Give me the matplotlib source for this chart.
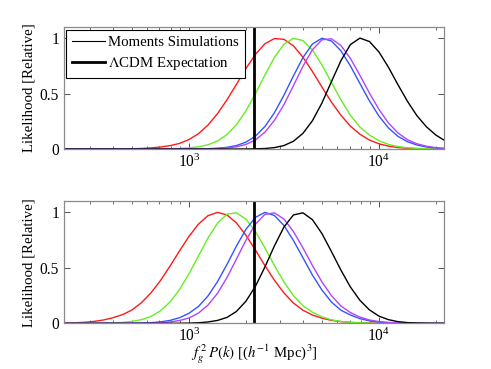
import matplotlib

matplotlib.use("Agg")
import matplotlib.pyplot as plt
from matplotlib.lines import Line2D
from matplotlib.ticker import LogLocator, NullFormatter, FixedLocator

plt.rcParams["font.family"] = ["Liberation Serif", "DejaVu Serif"]
plt.rcParams["mathtext.fontset"] = "stix"

# grid of f_g^2 P(k) values (0.05 dex spacing) shared by all curves
P = [224, 251, 282, 316, 355, 398, 447, 501, 562, 631, 708, 794, 891,
     1000, 1122, 1259, 1413, 1585, 1778, 1995, 2239, 2512, 2818, 3162,
     3548, 3981, 4467, 5012, 5623, 6310, 7079, 7943, 8913, 10000, 11220,
     12589, 14125, 15849, 17783, 19953, 22387]

# top panel likelihoods
top_red = [0, 0, 0, 0, 0.0001, 0.0004, 0.001, 0.002, 0.005, 0.01, 0.018,
           0.03, 0.05, 0.085, 0.138, 0.215, 0.318, 0.443, 0.583, 0.726,
           0.854, 0.949, 0.996, 0.989, 0.930, 0.828, 0.699, 0.559, 0.423,
           0.304, 0.206, 0.133, 0.081, 0.047, 0.026, 0.013, 0.0065, 0.003,
           0.0013, 0.0006, 0.0002]
top_green = [0, 0, 0, 0, 0, 0, 0, 0, 0, 0, 0.001, 0.002, 0.005, 0.01, 0.02,
             0.038, 0.072, 0.13, 0.219, 0.344, 0.499, 0.668, 0.826, 0.945,
             0.998, 0.978, 0.892, 0.758, 0.600, 0.443, 0.304, 0.197, 0.125,
             0.075, 0.042, 0.022, 0.011, 0.0055, 0.0025, 0.001, 0.0004]
top_blue = [0, 0, 0, 0, 0, 0, 0, 0, 0, 0, 0, 0, 0, 0.0004, 0.0012, 0.003,
            0.007, 0.015, 0.031, 0.062, 0.116, 0.203, 0.327, 0.485, 0.659,
            0.824, 0.947, 0.999, 0.974, 0.885, 0.749, 0.590, 0.434, 0.297,
            0.19, 0.114, 0.066, 0.036, 0.018, 0.009, 0.004]
top_purple = [0, 0, 0, 0, 0, 0, 0, 0, 0, 0, 0, 0, 0, 0, 0.0005, 0.0015,
              0.004, 0.009, 0.02, 0.041, 0.082, 0.152, 0.258, 0.400, 0.571,
              0.746, 0.895, 0.985, 0.994, 0.933, 0.816, 0.664, 0.504, 0.357,
              0.235, 0.145, 0.084, 0.047, 0.025, 0.012, 0.0055]
top_black = [0, 0, 0, 0, 0, 0, 0, 0, 0, 0, 0, 0, 0, 0, 0, 0, 0, 0, 0,
             0.0004, 0.0015, 0.0045, 0.0125, 0.031, 0.070, 0.141, 0.255,
             0.415, 0.607, 0.797, 0.942, 1.0, 0.969, 0.875, 0.737, 0.58,
             0.43, 0.30, 0.20, 0.125, 0.072]

# bottom panel likelihoods
bot_red = [0.0025, 0.005, 0.009, 0.017, 0.03, 0.05, 0.078, 0.12, 0.185,
           0.274, 0.385, 0.514, 0.651, 0.783, 0.894, 0.970, 1.0, 0.977,
           0.905, 0.794, 0.660, 0.520, 0.388, 0.274, 0.183, 0.118, 0.075,
           0.046, 0.027, 0.015, 0.008, 0.004, 0.002, 0.001, 0, 0, 0, 0, 0,
           0, 0]
bot_green = [0, 0, 0, 0.0007, 0.0018, 0.004, 0.008, 0.017, 0.033, 0.062,
             0.112, 0.191, 0.302, 0.445, 0.607, 0.768, 0.902, 0.984, 0.996,
             0.940, 0.827, 0.680, 0.521, 0.373, 0.25, 0.158, 0.10, 0.058,
             0.032, 0.017, 0.009, 0.0045, 0.002, 0.001, 0, 0, 0, 0, 0, 0, 0]
bot_blue = [0, 0, 0, 0, 0, 0, 0, 0.001, 0.0025, 0.006, 0.013, 0.026, 0.05,
            0.09, 0.152, 0.246, 0.375, 0.530, 0.696, 0.847, 0.955, 1.0,
            0.972, 0.882, 0.747, 0.591, 0.435, 0.300, 0.192, 0.118, 0.075,
            0.042, 0.022, 0.011, 0.005, 0.002, 0.001, 0, 0, 0, 0]
bot_purple = [0, 0, 0, 0, 0, 0, 0, 0, 0.0008, 0.002, 0.005, 0.012, 0.025,
              0.048, 0.092, 0.164, 0.270, 0.412, 0.579, 0.749, 0.894, 0.982,
              0.996, 0.940, 0.827, 0.680, 0.521, 0.373, 0.249, 0.156, 0.097,
              0.056, 0.03, 0.016, 0.008, 0.004, 0.0018, 0.0007, 0, 0, 0]
bot_black = [0, 0, 0, 0, 0, 0, 0, 0, 0, 0, 0, 0, 0.0007, 0.002, 0.005,
             0.012, 0.026, 0.053, 0.107, 0.199, 0.334, 0.508, 0.698, 0.868,
             0.977, 0.996, 0.934, 0.809, 0.647, 0.479, 0.327, 0.207, 0.121,
             0.065, 0.033, 0.015, 0.0064, 0.0025, 0.0009, 0, 0]

lcdm = 2210  # LambdaCDM expectation
colors = ["#ff1a1a", "#66ee22", "#3355ff", "#b044ff", "black"]
frame = "#8a8a8a"
FS = 10.7

fig = plt.figure(figsize=(4.91, 3.69), dpi=100)
ax_top = fig.add_axes([0.1303, 0.5962, 0.774, 0.3306])
ax_bot = fig.add_axes([0.1303, 0.1238, 0.774, 0.3307])

panels = [
    (ax_top, [top_red, top_green, top_blue, top_purple, top_black]),
    (ax_bot, [bot_red, bot_green, bot_blue, bot_purple, bot_black]),
]
for ax, curves in panels:
    for y, c in zip(curves, colors):
        ax.plot(P, y, color=c, lw=1.0)
    ax.axvline(lcdm, color="black", lw=2.0)
    ax.set_xscale("log")
    ax.set_xlim(220, 22000)
    ax.set_ylim(0, 1.1)
    ax.xaxis.set_major_locator(FixedLocator([1e3, 1e4]))
    ax.xaxis.set_minor_locator(LogLocator(base=10, subs=range(2, 10)))
    ax.xaxis.set_minor_formatter(NullFormatter())
    ax.set_yticks([0, 0.5, 1])
    ax.set_yticklabels(["0", "0.5", "1"])
    ax.tick_params(which="both", direction="in", top=True, right=True,
                   labelsize=FS + 0.5, colors="#333333", labelcolor="black")
    ax.tick_params(which="major", length=4, width=0.6)
    ax.tick_params(which="minor", length=2.2, width=0.5)
    for s in ax.spines.values():
        s.set_color(frame)
        s.set_linewidth(0.9)
    ax.set_ylabel("Likelihood [Relative]", fontsize=FS, labelpad=3)

handles = [Line2D([], [], color="black", lw=0.8),
           Line2D([], [], color="black", lw=2.0)]
leg = ax_top.legend(handles, ["Moments Simulations", r"$\Lambda$CDM Expectation"],
                    loc="upper left", bbox_to_anchor=(0.005, 0.975),
                    borderaxespad=0, fontsize=FS, frameon=True, fancybox=False,
                    framealpha=1, handlelength=2.2, handletextpad=0.25,
                    borderpad=0.4, labelspacing=0.4)
leg.get_frame().set_edgecolor("black")
leg.get_frame().set_linewidth(0.8)

ax_bot.set_xlabel(r"$f_g^{\,2}\,P(k)$ [($h^{-1}$ Mpc)$^3$]", fontsize=FS,
                  labelpad=-2)

fig.savefig("out.png", dpi=100)
